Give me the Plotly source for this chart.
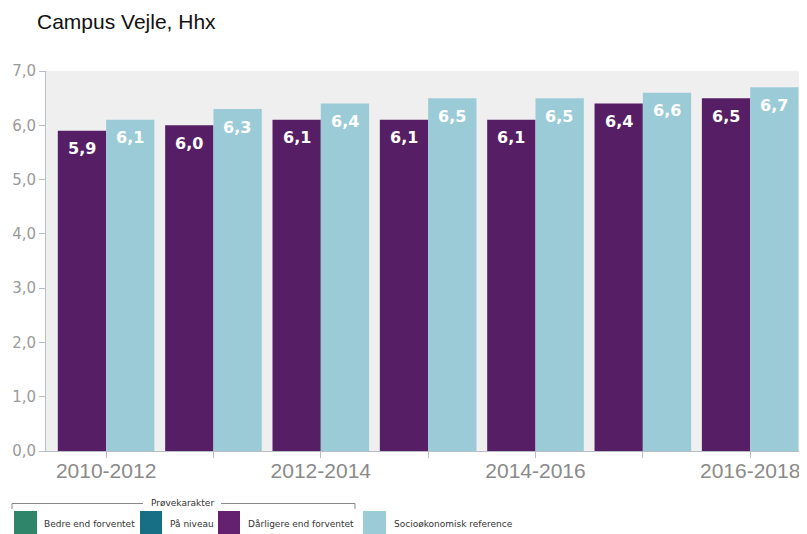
import plotly.graph_objects as go

categories = ["2010-2012", "2011-2013", "2012-2014", "2013-2015", "2014-2016", "2015-2017", "2016-2018"]
tick_labels = ["2010-2012", "", "2012-2014", "", "2014-2016", "", "2016-2018"]
darligere = [5.9, 6.0, 6.1, 6.1, 6.1, 6.4, 6.5]
socio_ref = [6.1, 6.3, 6.4, 6.5, 6.5, 6.6, 6.7]
legend_names = ["Bedre end forventet", "På niveau", "Dårligere end forventet", "Socioøkonomisk reference"]
legend_colors = ["#2f856a", "#176f86", "#632170", "#9ccbd8"]

PURPLE = "#561f65"
LIGHTBLUE = "#9ccbd8"

# page body has an 8px margin: design in page pixels, convert to figure pixels
OFF = 8
PAGE_W, PAGE_H = 807, 534
W, H = PAGE_W - OFF, PAGE_H - OFF
PL, PR, PT, PB = 46, 806, 71, 451  # plot area in page pixels
ML, MR, MT, MB = PL - OFF, W - (PR - OFF), PT - OFF, H - (PB - OFF)
PW = W - ML - MR
PH = H - MT - MB

def px_x(p):
    return (p - OFF - ML) / PW

def px_y(p):
    return (H - MB - (p - OFF)) / PH

fig = go.Figure()
fig.add_trace(go.Bar(x=categories, y=darligere, name=legend_names[2],
                     marker=dict(color=PURPLE, line=dict(width=0)), showlegend=False))
fig.add_trace(go.Bar(x=categories, y=socio_ref, name=legend_names[3],
                     marker=dict(color=LIGHTBLUE, line=dict(width=0)), showlegend=False))

annotations = []
def fmt(v):
    return f"{v:.1f}".replace(".", ",")

lab_font = dict(family="DejaVu Sans", size=16, color="white", weight="bold")
for c, v in zip(categories, darligere):
    annotations.append(dict(x=c, y=v, xref="x", yref="y", text=fmt(v), showarrow=False,
                            xshift=-24, yshift=-18, yanchor="middle", font=lab_font))
for c, v in zip(categories, socio_ref):
    annotations.append(dict(x=c, y=v, xref="x", yref="y", text=fmt(v), showarrow=False,
                            xshift=24, yshift=-18, yanchor="middle", font=lab_font))

# Legend (custom, below plot), page pixel positions
shapes = []
leg_items = [(14, 37, 42), (140, 162, 168), (218, 240, 246), (363, 386, 392)]
for (x0, x1, tx), name, col in zip(leg_items, legend_names, legend_colors):
    shapes.append(dict(type="rect", xref="paper", yref="paper",
                       x0=px_x(x0), x1=px_x(x1), y0=px_y(534), y1=px_y(511),
                       fillcolor=col, line=dict(width=0)))
    annotations.append(dict(x=px_x(tx), y=px_y(524), xref="paper", yref="paper", text=name,
                            showarrow=False, xanchor="left", yanchor="middle",
                            font=dict(family="DejaVu Sans", size=9, color="#333333")))

# bracket "Prøvekarakter"
bc = "#888888"
shapes += [
    dict(type="line", xref="paper", yref="paper", x0=px_x(12), x1=px_x(143), y0=px_y(503.5), y1=px_y(503.5), line=dict(color=bc, width=1)),
    dict(type="line", xref="paper", yref="paper", x0=px_x(221), x1=px_x(355), y0=px_y(503.5), y1=px_y(503.5), line=dict(color=bc, width=1)),
    dict(type="line", xref="paper", yref="paper", x0=px_x(12), x1=px_x(12), y0=px_y(503.5), y1=px_y(509), line=dict(color=bc, width=1)),
    dict(type="line", xref="paper", yref="paper", x0=px_x(355), x1=px_x(355), y0=px_y(503.5), y1=px_y(509), line=dict(color=bc, width=1)),
]
annotations.append(dict(x=px_x(182), y=px_y(503), xref="paper", yref="paper", text="Prøvekarakter",
                        showarrow=False, xanchor="center", yanchor="middle",
                        font=dict(family="DejaVu Sans", size=9, color="#333333")))

fig.update_layout(
    width=W, height=H,
    margin=dict(l=ML, r=MR, t=MT, b=MB, autoexpand=False),
    paper_bgcolor="white", plot_bgcolor="#efefef",
    barmode="group", bargap=0.1, bargroupgap=0,
    separators=",.",
    title=dict(text="Campus Vejle, Hhx", x=(37 - OFF) / W, xref="container", xanchor="left",
               y=1 - (22 - OFF) / H, yref="container", yanchor="middle",
               font=dict(family="Liberation Sans", size=21, color="#111111")),
    xaxis=dict(type="category", range=[-0.56, 6.52], tickmode="array", tickvals=categories,
               ticktext=tick_labels, ticks="outside", ticklen=6, tickcolor="#b8bcc4",
               showline=True, linecolor="#b8bcc4", linewidth=1, showgrid=False,
               ticklabelstandoff=-5,
               tickfont=dict(family="Liberation Sans", size=21, color="#8a8a8a")),
    yaxis=dict(range=[0, 7], dtick=1, tickformat=".1f", ticks="outside", ticklen=6,
               tickcolor="#b8bcc4", showline=True, linecolor="#b8bcc4", linewidth=1,
               showgrid=False, zeroline=False,
               tickfont=dict(family="DejaVu Sans", size=15, color="#9a9a9a")),
    annotations=annotations, shapes=shapes,
)

fig.write_html("out.html")
